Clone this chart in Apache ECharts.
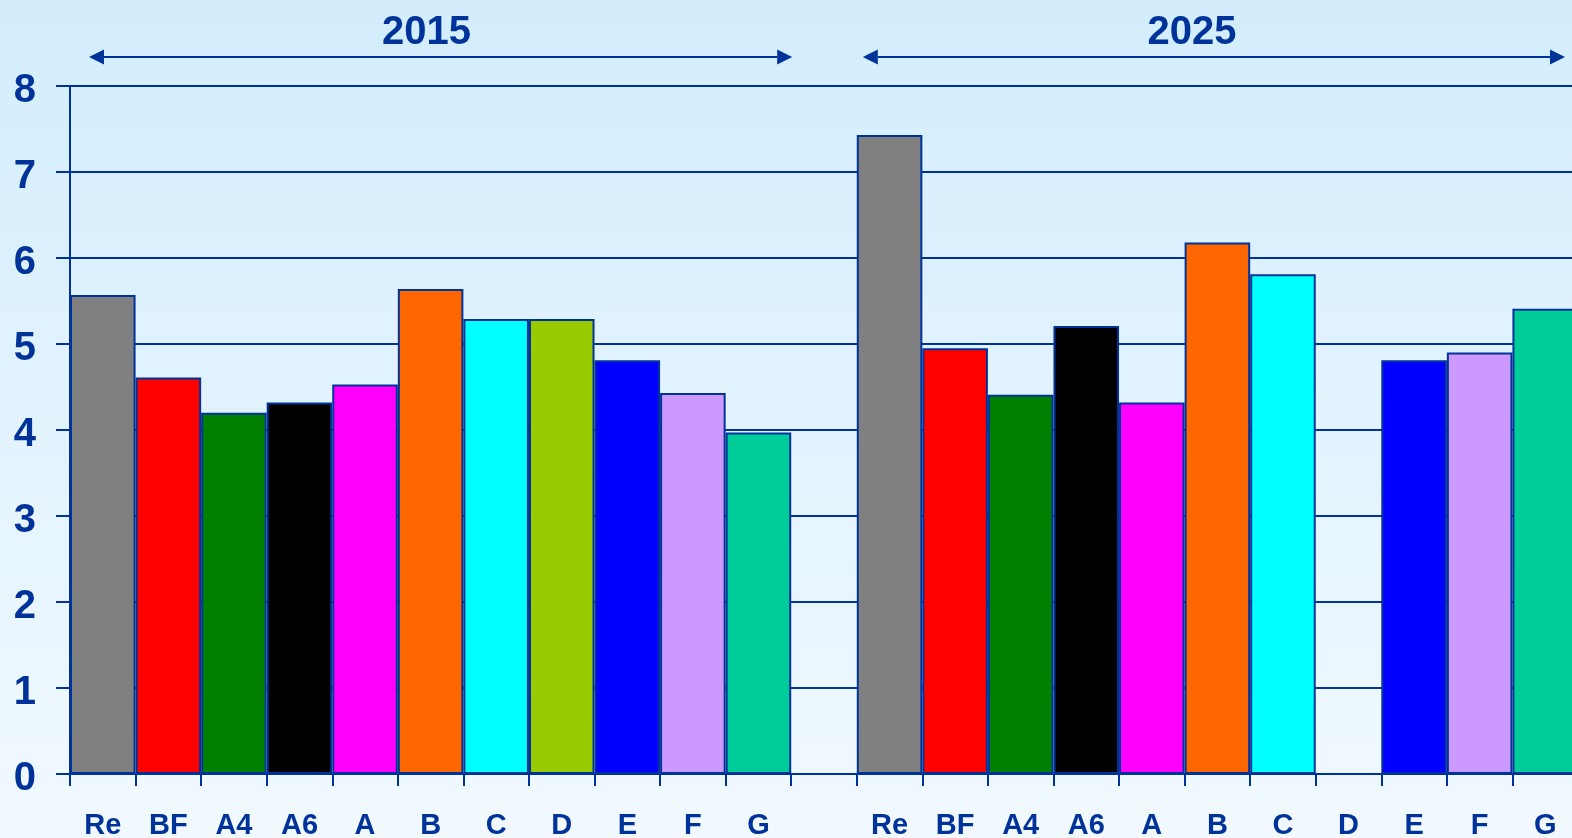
<!DOCTYPE html>
<html>
<head>
<meta charset="utf-8">
<script src="https://cdn.jsdelivr.net/npm/echarts@6/dist/echarts.min.js"></script>
<style>
  html, body { margin: 0; padding: 0; }
  #main {
    width: 1572px;
    height: 838px;
    background: linear-gradient(to bottom, #d3edfd 0%, #f1f9fe 100%);
  }
</style>
</head>
<body>
<div id="main"></div>
<script>
var years = ['2015', '2025'];
var classes = ['Re', 'BF', 'A4', 'A6', 'A', 'B', 'C', 'D', 'E', 'F', 'G'];
var values2015 = [5.57, 4.61, 4.2, 4.32, 4.53, 5.64, 5.29, 5.29, 4.81, 4.43, 3.97];
var values2025 = [7.43, 4.95, 4.41, 5.21, 4.32, 6.18, 5.81, null, 4.81, 4.9, 5.41];
var classColors = ['#808080', '#ff0000', '#008000', '#000000', '#ff00ff', '#ff6600',
  '#00ffff', '#99cc00', '#0000ff', '#cc99ff', '#00cc99'];

var navy = '#003399';
var font = '"Liberation Sans", Arial, sans-serif';

// one empty slot between the two year groups
var categories = classes.concat([''], classes);
var barData = [];
values2015.forEach(function (v, i) {
  barData.push({ value: v, itemStyle: { color: classColors[i] } });
});
barData.push('-');
values2025.forEach(function (v, i) {
  barData.push(v == null ? '-' : { value: v, itemStyle: { color: classColors[i] } });
});

var chartDom = document.getElementById('main');
var myChart = echarts.init(chartDom);
var option;

option = {
  backgroundColor: 'transparent',
  animation: false,
  // plot runs a little past the right edge, last bar is cut off
  grid: { left: 70, top: 86, width: 1508, height: 688, outerBoundsMode: 'none', containLabel: false },
  xAxis: {
    type: 'category',
    data: categories,
    axisLine: { lineStyle: { color: navy, width: 2 } },
    axisTick: { show: true, interval: 0, length: 12, lineStyle: { color: navy, width: 2 } },
    axisLabel: {
      interval: 0,
      margin: 37,
      color: navy,
      fontSize: 29,
      fontWeight: 'bold',
      fontFamily: font
    }
  },
  yAxis: {
    type: 'value',
    min: 0,
    max: 8,
    interval: 1,
    axisLine: { show: true, lineStyle: { color: navy, width: 2 } },
    axisTick: { show: true, length: 14, lineStyle: { color: navy, width: 2 } },
    splitLine: { lineStyle: { color: navy, width: 2 } },
    axisLabel: {
      margin: 34,
      verticalAlign: 'top',
      lineHeight: 9,
      color: navy,
      fontSize: 40,
      fontWeight: 'bold',
      fontFamily: font
    }
  },
  series: [
    {
      type: 'bar',
      barCategoryGap: '0%',
      data: barData,
      itemStyle: { borderColor: navy, borderWidth: 2 }
    }
  ]
};

option && myChart.setOption(option);

// year arrows above the plot, placed from the axes
var xc = function (i) { return myChart.convertToPixel({ xAxisIndex: 0 }, i); };
var band = xc(1) - xc(0);
var edge = function (i) { return xc(i) - band / 2; };
var yTop = myChart.convertToPixel({ yAxisIndex: 0 }, 8);
var arrowY = yTop - 29;

function arrow(x1, x2, label, dx) {
  var h = 15, w = 7.5;
  var mid = (x1 + x2) / 2 + dx;
  return [
    { type: 'line', shape: { x1: x1 + h, y1: arrowY, x2: x2 - h, y2: arrowY },
      style: { stroke: navy, lineWidth: 2 } },
    { type: 'polygon', shape: { points: [[x1, arrowY], [x1 + h, arrowY - w], [x1 + h, arrowY + w]] },
      style: { fill: navy } },
    { type: 'polygon', shape: { points: [[x2, arrowY], [x2 - h, arrowY - w], [x2 - h, arrowY + w]] },
      style: { fill: navy } },
    { type: 'text', x: mid, y: arrowY - 24,
      style: { text: label, fill: navy, font: 'bold 40px ' + font, textAlign: 'center', textVerticalAlign: 'middle' } }
  ];
}

var n = classes.length;
myChart.setOption({
  graphic: arrow(edge(0) + 19, edge(n) + 1, years[0], -14)
    .concat(arrow(edge(n + 1) + 6, edge(2 * n + 1) - 13, years[1], -22))
});
</script>
</body>
</html>
